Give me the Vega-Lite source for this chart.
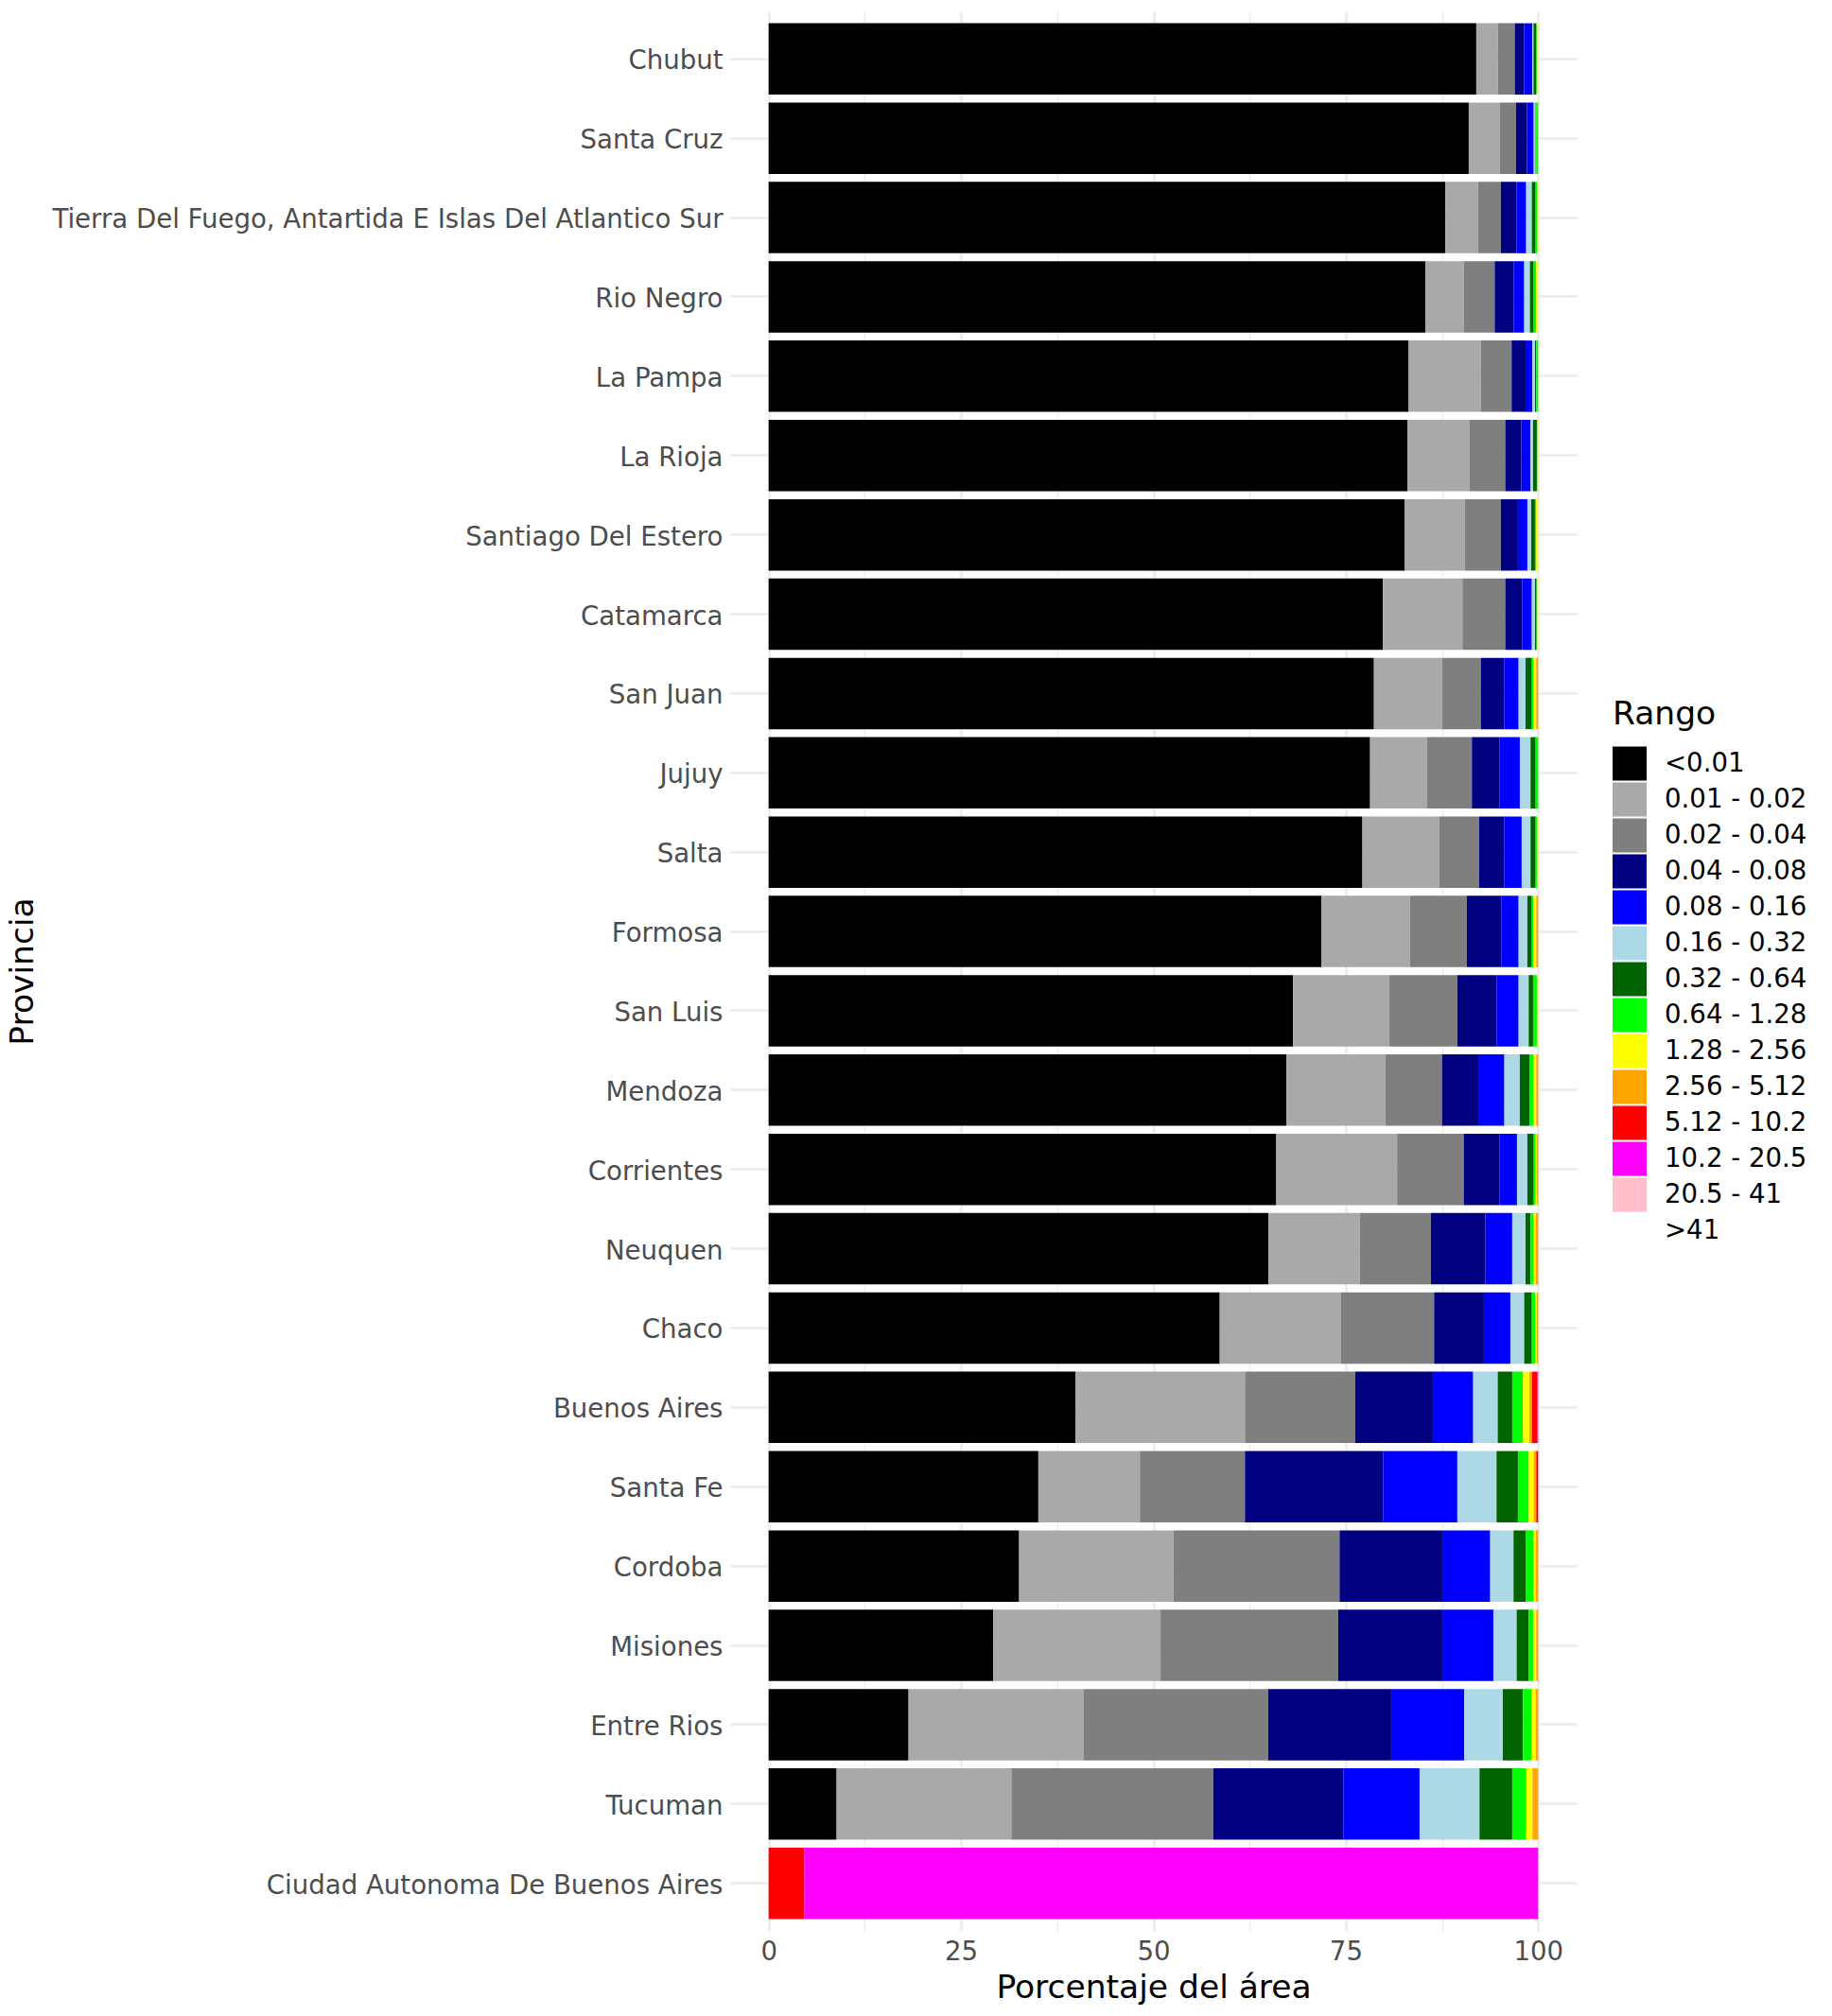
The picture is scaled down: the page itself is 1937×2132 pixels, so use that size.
{
"$schema": "https://vega.github.io/schema/vega-lite/v6.json",
"autosize": "none",
"width": 895,
"height": 2030,
"padding": {"left": 772, "top": 12, "right": 270, "bottom": 90},
"background": "white",
"datasets": {
"cats": [{"r":"<0.01","k":0},{"r":"0.01 - 0.02","k":1},{"r":"0.02 - 0.04","k":2},{"r":"0.04 - 0.08","k":3},{"r":"0.08 - 0.16","k":4},{"r":"0.16 - 0.32","k":5},{"r":"0.32 - 0.64","k":6},{"r":"0.64 - 1.28","k":7},{"r":"1.28 - 2.56","k":8},{"r":"2.56 - 5.12","k":9},{"r":"5.12 - 10.2","k":10},{"r":"10.2 - 20.5","k":11},{"r":"20.5 - 41","k":12},{"r":">41","k":13}],
"d": [
{"p":"Chubut","r":"<0.01","v":91.96},{"p":"Chubut","r":"0.01 - 0.02","v":2.79},{"p":"Chubut","r":"0.02 - 0.04","v":2.21},{"p":"Chubut","r":"0.04 - 0.08","v":1.23},{"p":"Chubut","r":"0.08 - 0.16","v":1.07},{"p":"Chubut","r":"0.16 - 0.32","v":0.14},{"p":"Chubut","r":"0.32 - 0.64","v":0.37},{"p":"Chubut","r":"0.64 - 1.28","v":0.08},{"p":"Chubut","r":"1.28 - 2.56","v":0.15},
{"p":"Santa Cruz","r":"<0.01","v":90.98},{"p":"Santa Cruz","r":"0.01 - 0.02","v":4.02},{"p":"Santa Cruz","r":"0.02 - 0.04","v":2.13},{"p":"Santa Cruz","r":"0.04 - 0.08","v":1.43},{"p":"Santa Cruz","r":"0.08 - 0.16","v":0.86},{"p":"Santa Cruz","r":"0.16 - 0.32","v":0.25},{"p":"Santa Cruz","r":"0.32 - 0.64","v":0.08},{"p":"Santa Cruz","r":"0.64 - 1.28","v":0.25},
{"p":"Tierra Del Fuego, Antartida E Islas Del Atlantico Sur","r":"<0.01","v":87.95},{"p":"Tierra Del Fuego, Antartida E Islas Del Atlantico Sur","r":"0.01 - 0.02","v":4.22},{"p":"Tierra Del Fuego, Antartida E Islas Del Atlantico Sur","r":"0.02 - 0.04","v":2.99},{"p":"Tierra Del Fuego, Antartida E Islas Del Atlantico Sur","r":"0.04 - 0.08","v":2.05},{"p":"Tierra Del Fuego, Antartida E Islas Del Atlantico Sur","r":"0.08 - 0.16","v":1.23},{"p":"Tierra Del Fuego, Antartida E Islas Del Atlantico Sur","r":"0.16 - 0.32","v":0.74},{"p":"Tierra Del Fuego, Antartida E Islas Del Atlantico Sur","r":"0.32 - 0.64","v":0.49},{"p":"Tierra Del Fuego, Antartida E Islas Del Atlantico Sur","r":"0.64 - 1.28","v":0.18},{"p":"Tierra Del Fuego, Antartida E Islas Del Atlantico Sur","r":"1.28 - 2.56","v":0.15},
{"p":"Rio Negro","r":"<0.01","v":85.33},{"p":"Rio Negro","r":"0.01 - 0.02","v":5.04},{"p":"Rio Negro","r":"0.02 - 0.04","v":3.98},{"p":"Rio Negro","r":"0.04 - 0.08","v":2.45},{"p":"Rio Negro","r":"0.08 - 0.16","v":1.39},{"p":"Rio Negro","r":"0.16 - 0.32","v":0.74},{"p":"Rio Negro","r":"0.32 - 0.64","v":0.49},{"p":"Rio Negro","r":"0.64 - 1.28","v":0.33},{"p":"Rio Negro","r":"1.28 - 2.56","v":0.25},
{"p":"La Pampa","r":"<0.01","v":83.17},{"p":"La Pampa","r":"0.01 - 0.02","v":9.37},{"p":"La Pampa","r":"0.02 - 0.04","v":4.01},{"p":"La Pampa","r":"0.04 - 0.08","v":1.81},{"p":"La Pampa","r":"0.08 - 0.16","v":0.90},{"p":"La Pampa","r":"0.16 - 0.32","v":0.33},{"p":"La Pampa","r":"0.32 - 0.64","v":0.16},{"p":"La Pampa","r":"0.64 - 1.28","v":0.25},
{"p":"La Rioja","r":"<0.01","v":83.0},{"p":"La Rioja","r":"0.01 - 0.02","v":8.1},{"p":"La Rioja","r":"0.02 - 0.04","v":4.63},{"p":"La Rioja","r":"0.04 - 0.08","v":2.09},{"p":"La Rioja","r":"0.08 - 0.16","v":1.18},{"p":"La Rioja","r":"0.16 - 0.32","v":0.34},{"p":"La Rioja","r":"0.32 - 0.64","v":0.49},{"p":"La Rioja","r":"0.64 - 1.28","v":0.08},{"p":"La Rioja","r":"1.28 - 2.56","v":0.09},
{"p":"Santiago Del Estero","r":"<0.01","v":82.67},{"p":"Santiago Del Estero","r":"0.01 - 0.02","v":7.82},{"p":"Santiago Del Estero","r":"0.02 - 0.04","v":4.67},{"p":"Santiago Del Estero","r":"0.04 - 0.08","v":2.21},{"p":"Santiago Del Estero","r":"0.08 - 0.16","v":1.23},{"p":"Santiago Del Estero","r":"0.16 - 0.32","v":0.49},{"p":"Santiago Del Estero","r":"0.32 - 0.64","v":0.49},{"p":"Santiago Del Estero","r":"0.64 - 1.28","v":0.17},{"p":"Santiago Del Estero","r":"1.28 - 2.56","v":0.25},
{"p":"Catamarca","r":"<0.01","v":79.83},{"p":"Catamarca","r":"0.01 - 0.02","v":10.33},{"p":"Catamarca","r":"0.02 - 0.04","v":5.57},{"p":"Catamarca","r":"0.04 - 0.08","v":2.22},{"p":"Catamarca","r":"0.08 - 0.16","v":1.23},{"p":"Catamarca","r":"0.16 - 0.32","v":0.41},{"p":"Catamarca","r":"0.32 - 0.64","v":0.20},{"p":"Catamarca","r":"0.64 - 1.28","v":0.05},{"p":"Catamarca","r":"1.28 - 2.56","v":0.16},
{"p":"San Juan","r":"<0.01","v":78.66},{"p":"San Juan","r":"0.01 - 0.02","v":8.84},{"p":"San Juan","r":"0.02 - 0.04","v":5.04},{"p":"San Juan","r":"0.04 - 0.08","v":3.03},{"p":"San Juan","r":"0.08 - 0.16","v":1.89},{"p":"San Juan","r":"0.16 - 0.32","v":0.90},{"p":"San Juan","r":"0.32 - 0.64","v":0.82},{"p":"San Juan","r":"0.64 - 1.28","v":0.24},{"p":"San Juan","r":"1.28 - 2.56","v":0.33},{"p":"San Juan","r":"2.56 - 5.12","v":0.25},
{"p":"Jujuy","r":"<0.01","v":78.16},{"p":"Jujuy","r":"0.01 - 0.02","v":7.37},{"p":"Jujuy","r":"0.02 - 0.04","v":5.86},{"p":"Jujuy","r":"0.04 - 0.08","v":3.61},{"p":"Jujuy","r":"0.08 - 0.16","v":2.62},{"p":"Jujuy","r":"0.16 - 0.32","v":1.39},{"p":"Jujuy","r":"0.32 - 0.64","v":0.66},{"p":"Jujuy","r":"0.64 - 1.28","v":0.33},
{"p":"Salta","r":"<0.01","v":77.16},{"p":"Salta","r":"0.01 - 0.02","v":9.97},{"p":"Salta","r":"0.02 - 0.04","v":5.20},{"p":"Salta","r":"0.04 - 0.08","v":3.24},{"p":"Salta","r":"0.08 - 0.16","v":2.29},{"p":"Salta","r":"0.16 - 0.32","v":1.15},{"p":"Salta","r":"0.32 - 0.64","v":0.66},{"p":"Salta","r":"0.64 - 1.28","v":0.16},{"p":"Salta","r":"1.28 - 2.56","v":0.17},
{"p":"Formosa","r":"<0.01","v":71.82},{"p":"Formosa","r":"0.01 - 0.02","v":11.52},{"p":"Formosa","r":"0.02 - 0.04","v":7.39},{"p":"Formosa","r":"0.04 - 0.08","v":4.47},{"p":"Formosa","r":"0.08 - 0.16","v":2.26},{"p":"Formosa","r":"0.16 - 0.32","v":1.14},{"p":"Formosa","r":"0.32 - 0.64","v":0.58},{"p":"Formosa","r":"0.64 - 1.28","v":0.20},{"p":"Formosa","r":"1.28 - 2.56","v":0.37},{"p":"Formosa","r":"2.56 - 5.12","v":0.25},
{"p":"San Luis","r":"<0.01","v":68.14},{"p":"San Luis","r":"0.01 - 0.02","v":12.53},{"p":"San Luis","r":"0.02 - 0.04","v":8.83},{"p":"San Luis","r":"0.04 - 0.08","v":5.09},{"p":"San Luis","r":"0.08 - 0.16","v":2.87},{"p":"San Luis","r":"0.16 - 0.32","v":1.31},{"p":"San Luis","r":"0.32 - 0.64","v":0.57},{"p":"San Luis","r":"0.64 - 1.28","v":0.49},{"p":"San Luis","r":"1.28 - 2.56","v":0.17},
{"p":"Mendoza","r":"<0.01","v":67.3},{"p":"Mendoza","r":"0.01 - 0.02","v":12.86},{"p":"Mendoza","r":"0.02 - 0.04","v":7.34},{"p":"Mendoza","r":"0.04 - 0.08","v":4.83},{"p":"Mendoza","r":"0.08 - 0.16","v":3.28},{"p":"Mendoza","r":"0.16 - 0.32","v":2.01},{"p":"Mendoza","r":"0.32 - 0.64","v":1.23},{"p":"Mendoza","r":"0.64 - 1.28","v":0.57},{"p":"Mendoza","r":"1.28 - 2.56","v":0.33},{"p":"Mendoza","r":"2.56 - 5.12","v":0.25},
{"p":"Corrientes","r":"<0.01","v":65.97},{"p":"Corrientes","r":"0.01 - 0.02","v":15.70},{"p":"Corrientes","r":"0.02 - 0.04","v":8.66},{"p":"Corrientes","r":"0.04 - 0.08","v":4.67},{"p":"Corrientes","r":"0.08 - 0.16","v":2.25},{"p":"Corrientes","r":"0.16 - 0.32","v":1.35},{"p":"Corrientes","r":"0.32 - 0.64","v":0.82},{"p":"Corrientes","r":"0.64 - 1.28","v":0.25},{"p":"Corrientes","r":"1.28 - 2.56","v":0.17},{"p":"Corrientes","r":"2.56 - 5.12","v":0.16},
{"p":"Neuquen","r":"<0.01","v":64.96},{"p":"Neuquen","r":"0.01 - 0.02","v":11.86},{"p":"Neuquen","r":"0.02 - 0.04","v":9.24},{"p":"Neuquen","r":"0.04 - 0.08","v":7.09},{"p":"Neuquen","r":"0.08 - 0.16","v":3.48},{"p":"Neuquen","r":"0.16 - 0.32","v":1.73},{"p":"Neuquen","r":"0.32 - 0.64","v":0.65},{"p":"Neuquen","r":"0.64 - 1.28","v":0.41},{"p":"Neuquen","r":"1.28 - 2.56","v":0.25},{"p":"Neuquen","r":"2.56 - 5.12","v":0.33},
{"p":"Chaco","r":"<0.01","v":58.62},{"p":"Chaco","r":"0.01 - 0.02","v":15.77},{"p":"Chaco","r":"0.02 - 0.04","v":12.09},{"p":"Chaco","r":"0.04 - 0.08","v":6.47},{"p":"Chaco","r":"0.08 - 0.16","v":3.44},{"p":"Chaco","r":"0.16 - 0.32","v":1.80},{"p":"Chaco","r":"0.32 - 0.64","v":0.99},{"p":"Chaco","r":"0.64 - 1.28","v":0.41},{"p":"Chaco","r":"1.28 - 2.56","v":0.24},{"p":"Chaco","r":"2.56 - 5.12","v":0.17},
{"p":"Buenos Aires","r":"<0.01","v":39.9},{"p":"Buenos Aires","r":"0.01 - 0.02","v":22.0},{"p":"Buenos Aires","r":"0.02 - 0.04","v":14.33},{"p":"Buenos Aires","r":"0.04 - 0.08","v":10.08},{"p":"Buenos Aires","r":"0.08 - 0.16","v":5.25},{"p":"Buenos Aires","r":"0.16 - 0.32","v":3.19},{"p":"Buenos Aires","r":"0.32 - 0.64","v":1.88},{"p":"Buenos Aires","r":"0.64 - 1.28","v":1.40},{"p":"Buenos Aires","r":"1.28 - 2.56","v":0.82},{"p":"Buenos Aires","r":"2.56 - 5.12","v":0.33},{"p":"Buenos Aires","r":"5.12 - 10.2","v":0.74},{"p":"Buenos Aires","r":"10.2 - 20.5","v":0.08},
{"p":"Santa Fe","r":"<0.01","v":35.05},{"p":"Santa Fe","r":"0.01 - 0.02","v":13.20},{"p":"Santa Fe","r":"0.02 - 0.04","v":13.65},{"p":"Santa Fe","r":"0.04 - 0.08","v":17.94},{"p":"Santa Fe","r":"0.08 - 0.16","v":9.66},{"p":"Santa Fe","r":"0.16 - 0.32","v":5.09},{"p":"Santa Fe","r":"0.32 - 0.64","v":2.78},{"p":"Santa Fe","r":"0.64 - 1.28","v":1.40},{"p":"Santa Fe","r":"1.28 - 2.56","v":0.65},{"p":"Santa Fe","r":"2.56 - 5.12","v":0.33},{"p":"Santa Fe","r":"5.12 - 10.2","v":0.25},
{"p":"Cordoba","r":"<0.01","v":32.55},{"p":"Cordoba","r":"0.01 - 0.02","v":20.05},{"p":"Cordoba","r":"0.02 - 0.04","v":21.59},{"p":"Cordoba","r":"0.04 - 0.08","v":13.35},{"p":"Cordoba","r":"0.08 - 0.16","v":6.23},{"p":"Cordoba","r":"0.16 - 0.32","v":3.03},{"p":"Cordoba","r":"0.32 - 0.64","v":1.56},{"p":"Cordoba","r":"0.64 - 1.28","v":1.06},{"p":"Cordoba","r":"1.28 - 2.56","v":0.25},{"p":"Cordoba","r":"2.56 - 5.12","v":0.33},
{"p":"Misiones","r":"<0.01","v":29.2},{"p":"Misiones","r":"0.01 - 0.02","v":21.73},{"p":"Misiones","r":"0.02 - 0.04","v":23.09},{"p":"Misiones","r":"0.04 - 0.08","v":13.52},{"p":"Misiones","r":"0.08 - 0.16","v":6.64},{"p":"Misiones","r":"0.16 - 0.32","v":3.03},{"p":"Misiones","r":"0.32 - 0.64","v":1.56},{"p":"Misiones","r":"0.64 - 1.28","v":0.57},{"p":"Misiones","r":"1.28 - 2.56","v":0.41},{"p":"Misiones","r":"2.56 - 5.12","v":0.25},
{"p":"Entre Rios","r":"<0.01","v":18.18},{"p":"Entre Rios","r":"0.01 - 0.02","v":22.72},{"p":"Entre Rios","r":"0.02 - 0.04","v":24.02},{"p":"Entre Rios","r":"0.04 - 0.08","v":15.98},{"p":"Entre Rios","r":"0.08 - 0.16","v":9.51},{"p":"Entre Rios","r":"0.16 - 0.32","v":5.0},{"p":"Entre Rios","r":"0.32 - 0.64","v":2.62},{"p":"Entre Rios","r":"0.64 - 1.28","v":1.15},{"p":"Entre Rios","r":"1.28 - 2.56","v":0.49},{"p":"Entre Rios","r":"2.56 - 5.12","v":0.33},
{"p":"Tucuman","r":"<0.01","v":8.83},{"p":"Tucuman","r":"0.01 - 0.02","v":22.72},{"p":"Tucuman","r":"0.02 - 0.04","v":26.23},{"p":"Tucuman","r":"0.04 - 0.08","v":16.9},{"p":"Tucuman","r":"0.08 - 0.16","v":9.91},{"p":"Tucuman","r":"0.16 - 0.32","v":7.79},{"p":"Tucuman","r":"0.32 - 0.64","v":4.25},{"p":"Tucuman","r":"0.64 - 1.28","v":1.81},{"p":"Tucuman","r":"1.28 - 2.56","v":0.82},{"p":"Tucuman","r":"2.56 - 5.12","v":0.74},
{"p":"Ciudad Autonoma De Buenos Aires","r":"5.12 - 10.2","v":4.65},{"p":"Ciudad Autonoma De Buenos Aires","r":"10.2 - 20.5","v":95.35}
]},
"data": {"name": "d"},
"transform": [{"lookup": "r", "from": {"data": {"name": "cats"}, "key": "r", "fields": ["k"]}}],
"mark": {"type": "bar"},
"encoding": {
  "y": {
    "field": "p", "type": "nominal", "title": "Provincia",
    "sort": ["Chubut","Santa Cruz","Tierra Del Fuego, Antartida E Islas Del Atlantico Sur","Rio Negro","La Pampa","La Rioja","Santiago Del Estero","Catamarca","San Juan","Jujuy","Salta","Formosa","San Luis","Mendoza","Corrientes","Neuquen","Chaco","Buenos Aires","Santa Fe","Cordoba","Misiones","Entre Rios","Tucuman","Ciudad Autonoma De Buenos Aires"],
    "scale": {"paddingInner": 0.1, "paddingOuter": 0.15},
    "axis": {"grid": true, "bandPosition": 0.5, "gridColor": "#ebebeb", "gridWidth": 2.5, "domain": false, "ticks": false, "labelPadding": 8, "labelOffset": 3, "labelLimit": 2000, "labelFont": "DejaVu Sans", "labelFontSize": 27.6, "labelColor": "#4d4d4d", "titleFont": "DejaVu Sans", "titleFontSize": 34.5, "titleFontWeight": "normal", "titleColor": "#000000", "titleX": -748, "titleY": 1015, "titleAngle": 270, "titleAlign": "center", "titleBaseline": "middle"}
  },
  "x": {
    "field": "v", "type": "quantitative", "stack": "zero", "title": "Porcentaje del área",
    "scale": {"domain": [-5, 105], "nice": false, "zero": false},
    "axis": {"values": [0, 12.5, 25, 37.5, 50, 62.5, 75, 87.5, 100], "labelExpr": "datum.value % 25 == 0 ? datum.label : ''", "grid": true, "gridColor": "#ebebeb", "gridWidth": {"condition": {"test": "datum.value % 25 != 0", "value": 1.2}, "value": 2.5}, "domain": false, "ticks": false, "labelPadding": 8, "labelFont": "DejaVu Sans", "labelFontSize": 27.6, "labelColor": "#4d4d4d", "titleFont": "DejaVu Sans", "titleFontSize": 34.5, "titleFontWeight": "normal", "titleColor": "#000000", "titlePadding": 8}
  },
  "order": {"field": "k", "type": "quantitative", "sort": "ascending"},
  "color": {
    "field": "r", "type": "nominal", "title": "Rango",
    "scale": {
      "domain": ["<0.01","0.01 - 0.02","0.02 - 0.04","0.04 - 0.08","0.08 - 0.16","0.16 - 0.32","0.32 - 0.64","0.64 - 1.28","1.28 - 2.56","2.56 - 5.12","5.12 - 10.2","10.2 - 20.5","20.5 - 41",">41"],
      "range": ["#000000","#a9a9a9","#7f7f7f","#000080","#0000ff","#add8e6","#006400","#00ff00","#ffff00","#ffa500","#ff0000","#ff00ff","#ffc0cb","#ffffff"]
    },
    "legend": {"orient": "none", "legendX": 933, "legendY": 727, "values": ["<0.01","0.01 - 0.02","0.02 - 0.04","0.04 - 0.08","0.08 - 0.16","0.16 - 0.32","0.32 - 0.64","0.64 - 1.28","1.28 - 2.56","2.56 - 5.12","5.12 - 10.2","10.2 - 20.5","20.5 - 41",">41"], "symbolType": "square", "symbolSize": 1296, "symbolStrokeWidth": 0, "symbolOpacity": 1, "labelFont": "DejaVu Sans", "labelFontSize": 27.6, "labelColor": "#000000", "labelOffset": 19, "titleFont": "DejaVu Sans", "titleFontSize": 34.5, "titleFontWeight": "normal", "titleColor": "#000000", "titlePadding": 16, "rowPadding": 2}
  }
},
"config": {"view": {"stroke": null}}
}
